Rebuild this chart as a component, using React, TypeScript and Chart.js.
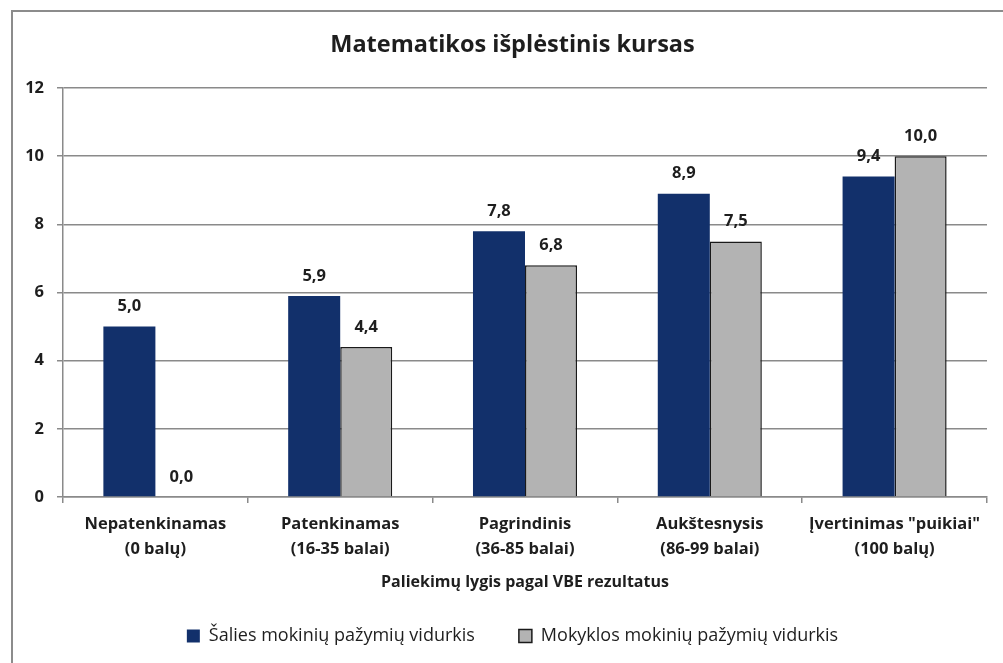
import React, { useEffect, useRef } from "react";
import { Chart, registerables } from "chart.js";

Chart.register(...registerables);

const categories: string[][] = [
  ["Nepatenkinamas", "(0 balų)"],
  ["Patenkinamas", "(16-35 balai)"],
  ["Pagrindinis", "(36-85 balai)"],
  ["Aukštesnysis", "(86-99 balai)"],
  ["Įvertinimas \"puikiai\"", "(100 balų)"],
];
const countryAvg = [5.0, 5.9, 7.8, 8.9, 9.4];
const schoolAvg = [0.0, 4.4, 6.8, 7.5, 10.0];
const seriesNames = ["Šalies mokinių pažymių vidurkis", "Mokyklos mokinių pažymių vidurkis"];
const chartTitle = "Matematikos išplėstinis kursas";
const xTitle = "Paliekimų lygis pagal VBE rezultatus";
const yMin = 0;
const yMax = 12;
const yStep = 2;

const FONT = "'Open Sans'";
const TEXT = "#1e1e1e";

const framePlugin = {
  id: "frame",
  beforeDraw(chart: any) {
    const ctx = chart.ctx;
    ctx.save();
    ctx.fillStyle = "#ffffff";
    ctx.fillRect(0, 0, chart.width, chart.height);
    ctx.strokeStyle = "#8c8c8c";
    ctx.lineWidth = 2;
    ctx.strokeRect(12, 11, 1200, 800);
    ctx.restore();
  },
};

const valueLabels = {
  id: "valueLabels",
  afterDatasetsDraw(chart: any) {
    const ctx = chart.ctx;
    ctx.save();
    ctx.font = `bold 16.5px ${FONT}`;
    ctx.fillStyle = TEXT;
    ctx.textAlign = "center";
    ctx.textBaseline = "middle";
    chart.data.datasets.forEach((ds: any, di: number) => {
      const meta = chart.getDatasetMeta(di);
      meta.data.forEach((bar: any, i: number) => {
        const v = ds.data[i] as number;
        ctx.fillText(v.toFixed(1).replace(".", ","), bar.x, bar.y - 20);
      });
    });
    ctx.restore();
  },
};

export default function App() {
  const ref = useRef<HTMLCanvasElement | null>(null);
  useEffect(() => {
    if (!ref.current) return;
    const chart = new Chart(ref.current, {
      type: "bar",
      data: {
        labels: categories,
        datasets: [
          {
            label: seriesNames[0],
            data: countryAvg,
            backgroundColor: "#12306b",
            borderWidth: 0,
            categoryPercentage: 0.563,
            barPercentage: 1,
          },
          {
            label: seriesNames[1],
            data: schoolAvg,
            backgroundColor: "#b3b3b3",
            borderColor: "#1a1a1a",
            borderWidth: 1.5,
            categoryPercentage: 0.563,
            barPercentage: 1,
          },
        ],
      },
      options: {
        responsive: false,
        animation: false,
        layout: { padding: { left: 22, right: 0, top: 0, bottom: 8 } },
        plugins: {
          title: {
            display: true,
            text: chartTitle,
            color: TEXT,
            font: { family: FONT, size: 23.5, weight: "bold", lineHeight: 1.3 },
            padding: { top: 29.7, bottom: 27.75 },
          },
          legend: {
            position: "bottom",
            labels: {
              color: TEXT,
              font: { family: FONT, size: 18 },
              boxWidth: 13,
              boxHeight: 13,
              padding: 44,
            },
          },
          tooltip: { enabled: false },
        },
        scales: {
          x: {
            afterFit: (s: any) => {
              s.height = 86;
            },
            grid: {
              display: true,
              drawOnChartArea: false,
              offset: true,
              tickLength: 6,
              color: "#8a8a8a",
              lineWidth: 1.5,
            },
            border: { color: "#8a8a8a", width: 1.5 },
            ticks: {
              color: TEXT,
              font: { family: FONT, size: 16.5, weight: "bold", lineHeight: 1.5 },
              padding: 9,
              maxRotation: 0,
              autoSkip: false,
            },
            title: {
              display: true,
              text: xTitle,
              color: TEXT,
              font: { family: FONT, size: 16, weight: "bold" },
              padding: { top: 0, bottom: -8.6 },
            },
          },
          y: {
            min: yMin,
            max: yMax,
            afterFit: (s: any) => {
              s.width = 41;
            },
            grid: {
              color: "#8a8a8a",
              lineWidth: 1.5,
              tickLength: 6,
            },
            border: { color: "#8a8a8a", width: 1.5 },
            ticks: {
              stepSize: yStep,
              color: TEXT,
              font: { family: FONT, size: 16.5, weight: "bold" },
              padding: 13,
            },
          },
          yRight: {
            position: "right",
            min: yMin,
            max: yMax,
            afterFit: (s: any) => {
              s.width = 16;
            },
            grid: { display: false, drawTicks: false },
            border: { display: false },
            ticks: { display: false },
          },
        },
      },
      plugins: [framePlugin, valueLabels],
    } as any);
    return () => chart.destroy();
  }, []);
  return (
    <div style={{ position: "fixed", left: 0, top: 0, width: 1003, height: 663, overflow: "hidden", background: "#fff" }}>
      <canvas ref={ref} width={1003} height={663} style={{ display: "block", width: 1003, height: 663 }} />
    </div>
  );
}
